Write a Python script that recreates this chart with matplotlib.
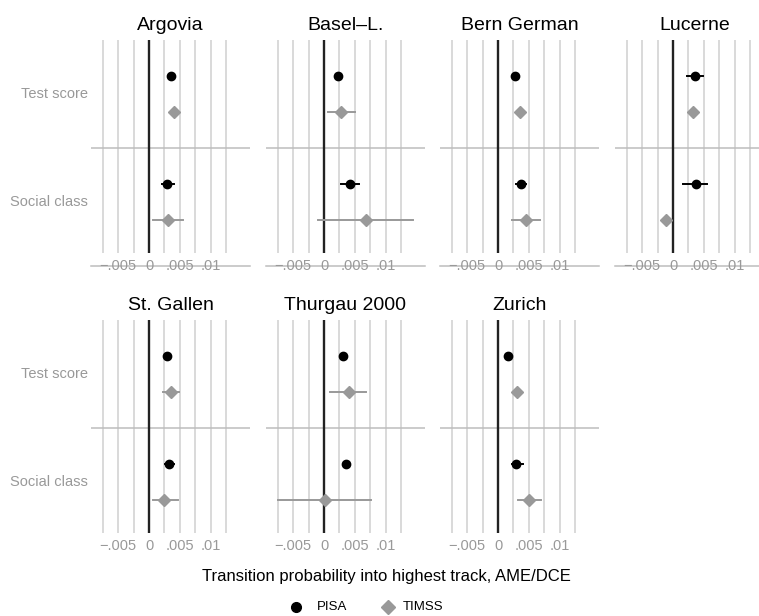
import matplotlib
matplotlib.use("Agg")
import matplotlib.pyplot as plt
from matplotlib.lines import Line2D

plt.rcParams['font.family'] = ['Liberation Sans', 'DejaVu Sans']

regions = ["Argovia", "Basel–L.", "Bern German", "Lucerne", "St. Gallen", "Thurgau 2000", "Zurich"]
outcomes = ["Test score", "Social class"]
series = ["PISA", "TIMSS"]

pisa_test = [0.0035, 0.0023, 0.0028, 0.0035, 0.0030, 0.0031, 0.0016]
pisa_test_lo = [0.0032, 0.0020, 0.0025, 0.0022, 0.0027, 0.0028, 0.0013]
pisa_test_hi = [0.0038, 0.0026, 0.0031, 0.0049, 0.0033, 0.0034, 0.0019]

timss_test = [0.0041, 0.0027, 0.0036, 0.0033, 0.0035, 0.0040, 0.0031]
timss_test_lo = [0.0037, 0.00065, 0.0032, 0.0029, 0.0022, 0.0010, 0.0027]
timss_test_hi = [0.0045, 0.0050, 0.0040, 0.0037, 0.0049, 0.0069, 0.0035]

pisa_social = [0.0030, 0.0042, 0.0037, 0.0037, 0.0033, 0.0036, 0.0030]
pisa_social_lo = [0.0021, 0.0027, 0.0029, 0.0017, 0.0026, 0.0033, 0.0022]
pisa_social_hi = [0.0040, 0.0057, 0.0045, 0.0055, 0.0040, 0.0039, 0.0041]

timss_social = [0.0031, 0.0068, 0.0046, -0.0012, 0.0025, 0.0001, 0.0050]
timss_social_lo = [0.00065, -0.0010, 0.0022, -0.0016, 0.00065, -0.0075, 0.0032]
timss_social_hi = [0.0056, 0.0145, 0.0069, -0.0008, 0.0047, 0.0076, 0.0070]

grid_x = [-0.0075, -0.005, -0.0025, 0, 0.0025, 0.005, 0.0075, 0.01, 0.0125]
tick_vals = [-0.005, 0, 0.005, 0.01]
tick_labels = ["−.005", "0", ".005", ".01"]

W, H = 759, 616
fig = plt.figure(figsize=(W / 100, H / 100), dpi=100)

lefts = [91, 266, 440, 615]
tops = [40, 320]
pw, ph = 159, 226

GRID_C = '#cfcfcf'
GREY = '#999999'
ZERO_C = '#222222'
SEP_C = '#bdbdbd'

for i, name in enumerate(regions):
    r, c = divmod(i, 4)
    L, T = lefts[c], tops[r]
    ax = fig.add_axes([L / W, 1 - (T + ph) / H, pw / W, ph / H])
    ax.set_xlim(-0.00942, 0.0164)
    ax.set_ylim(6.28, 0)
    ax.axis('off')
    for gx in grid_x:
        ax.plot([gx, gx], [0, 5.93], color=ZERO_C if gx == 0 else GRID_C,
                lw=1.7 if gx == 0 else 1.1, zorder=1 if gx != 0 else 2, solid_capstyle='butt')
    ax.axhline(3, color=SEP_C, lw=1.1, zorder=1)
    if r == 0:
        ax.axhline(6.28, color=SEP_C, lw=1.1, zorder=1, clip_on=False)
    for tv, tl in zip(tick_vals, tick_labels):
        ax.text(tv, 6.28, tl, ha='center', va='center', fontsize=10.5, color=GREY, zorder=3)

    # PISA
    for y, v, lo, hi in [(1, pisa_test[i], pisa_test_lo[i], pisa_test_hi[i]),
                         (4, pisa_social[i], pisa_social_lo[i], pisa_social_hi[i])]:
        ax.plot([lo, hi], [y, y], color='black', lw=1.4, zorder=4)
        ax.plot([v], [y], marker='o', ms=6, color='black', mec='black', zorder=5)
    # TIMSS
    for y, v, lo, hi in [(2, timss_test[i], timss_test_lo[i], timss_test_hi[i]),
                         (5, timss_social[i], timss_social_lo[i], timss_social_hi[i])]:
        ax.plot([lo, hi], [y, y], color=GREY, lw=1.4, zorder=4)
        ax.plot([v], [y], marker='D', ms=6.5, color=GREY, mec=GREY, zorder=5)

    ax.text(0.5, 1 + 15 / ph, name, transform=ax.transAxes, ha='center', va='center',
            fontsize=14, color='black')
    if c == 0:
        for y, lab in [(1.5, outcomes[0]), (4.5, outcomes[1])]:
            ax.annotate(lab, xy=(0, y), xycoords=('axes fraction', 'data'),
                        xytext=(-3, 0), textcoords='offset pixels',
                        ha='right', va='center', fontsize=10.5, color=GREY)

fig.text(386 / W, 1 - 577 / H, "Transition probability into highest track, AME/DCE",
         ha='center', va='center', fontsize=12, color='black')

# legend (manual placement)
leg_y = 1 - 607 / H
fig.add_artist(Line2D([296 / W], [leg_y], transform=fig.transFigure, ls='none',
                      marker='o', ms=7, color='black'))
fig.text(317 / W, leg_y, series[0], ha='left', va='center', fontsize=9.5, color='black')
fig.add_artist(Line2D([388 / W], [leg_y], transform=fig.transFigure, ls='none',
                      marker='D', ms=7.5, color=GREY))
fig.text(403 / W, leg_y, series[1], ha='left', va='center', fontsize=9.5, color='black')

fig.savefig("out.png", dpi=100)
